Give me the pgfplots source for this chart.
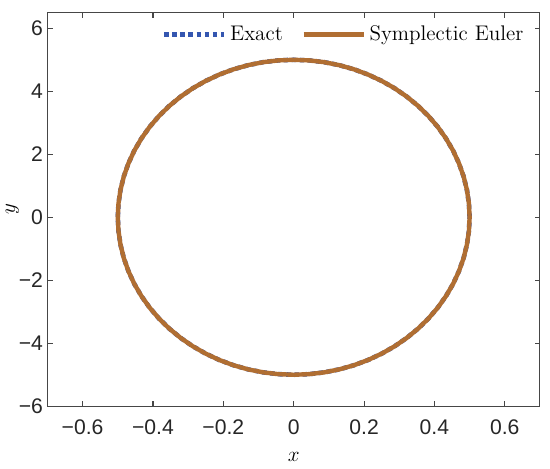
\documentclass[border=0pt]{standalone}
\usepackage{fontspec}
\usepackage{pgfplots}
\usepackage{pgfplotstable}
\pgfplotsset{compat=1.18}
\newfontfamily\ticksf{Liberation Sans}
\definecolor{exactblue}{RGB}{52, 86, 176}
\definecolor{eulerbrown}{RGB}{176, 110, 50}
\definecolor{framegray}{RGB}{70, 70, 70}

% orbit points, 5 degree steps, x = 0.5 cos t, y = 5 sin t
\pgfplotstableread{
x y
0.5 0
0.4981 0.4358
0.4924 0.8682
0.4830 1.2941
0.4698 1.7101
0.4532 2.1131
0.4330 2.5
0.4096 2.8679
0.3830 3.2139
0.3536 3.5355
0.3214 3.8302
0.2868 4.0958
0.25 4.3301
0.2113 4.5315
0.1710 4.6985
0.1294 4.8296
0.0868 4.9240
0.0436 4.9810
0 5
-0.0436 4.9810
-0.0868 4.9240
-0.1294 4.8296
-0.1710 4.6985
-0.2113 4.5315
-0.25 4.3301
-0.2868 4.0958
-0.3214 3.8302
-0.3536 3.5355
-0.3830 3.2139
-0.4096 2.8679
-0.4330 2.5
-0.4532 2.1131
-0.4698 1.7101
-0.4830 1.2941
-0.4924 0.8682
-0.4981 0.4358
-0.5 0
-0.4981 -0.4358
-0.4924 -0.8682
-0.4830 -1.2941
-0.4698 -1.7101
-0.4532 -2.1131
-0.4330 -2.5
-0.4096 -2.8679
-0.3830 -3.2139
-0.3536 -3.5355
-0.3214 -3.8302
-0.2868 -4.0958
-0.25 -4.3301
-0.2113 -4.5315
-0.1710 -4.6985
-0.1294 -4.8296
-0.0868 -4.9240
-0.0436 -4.9810
0 -5
0.0436 -4.9810
0.0868 -4.9240
0.1294 -4.8296
0.1710 -4.6985
0.2113 -4.5315
0.25 -4.3301
0.2868 -4.0958
0.3214 -3.8302
0.3536 -3.5355
0.3830 -3.2139
0.4096 -2.8679
0.4330 -2.5
0.4532 -2.1131
0.4698 -1.7101
0.4830 -1.2941
0.4924 -0.8682
0.4981 -0.4358
0.5 0
}\orbit

\begin{document}
\begin{tikzpicture}
\begin{axis}[
    scale only axis,
    width=9.82cm, height=7.85cm,
    xmin=-0.7, xmax=0.7,
    ymin=-6, ymax=6.5,
    xtick={-0.6,-0.4,-0.2,0,0.2,0.4,0.6},
    xticklabels={−0.6,−0.4,−0.2,0,0.2,0.4,0.6},
    ytick={-6,-4,-2,0,2,4,6},
    yticklabels={−6,−4,−2,0,2,4,6},
    tick label style={font=\ticksf\large, text=black!85},
    xticklabel style={yshift=-4pt},
    yticklabel style={xshift=1pt},
    tick align=inside,
    major tick length=3pt,
    axis line style={framegray, line width=0.6pt},
    every tick/.style={framegray, line width=0.6pt},
    xlabel={$x$},
    ylabel={$y$},
    xlabel style={yshift=-3pt},
    ylabel shift={-7pt},
    label style={font=\large},
    legend columns=2,
    legend style={
        at={(0.985,0.985)}, anchor=north east,
        draw=none, fill=none,
        font=\large,
        /tikz/every even column/.append style={column sep=0.3cm},
    },
    legend image code/.code={
        \draw[#1] (0cm,0cm) -- (1.2cm,0cm);
    },
]
\addplot[exactblue, line width=2.6pt, dotted] table {\orbit};
\addplot[eulerbrown, line width=2.5pt] table {\orbit};
\legend{Exact, Symplectic Euler}
\end{axis}
\path (current axis.north east) ++(0.2cm,0.25cm);
\path (current axis.south west) ++(0,-1.24cm);
\end{tikzpicture}
\end{document}
